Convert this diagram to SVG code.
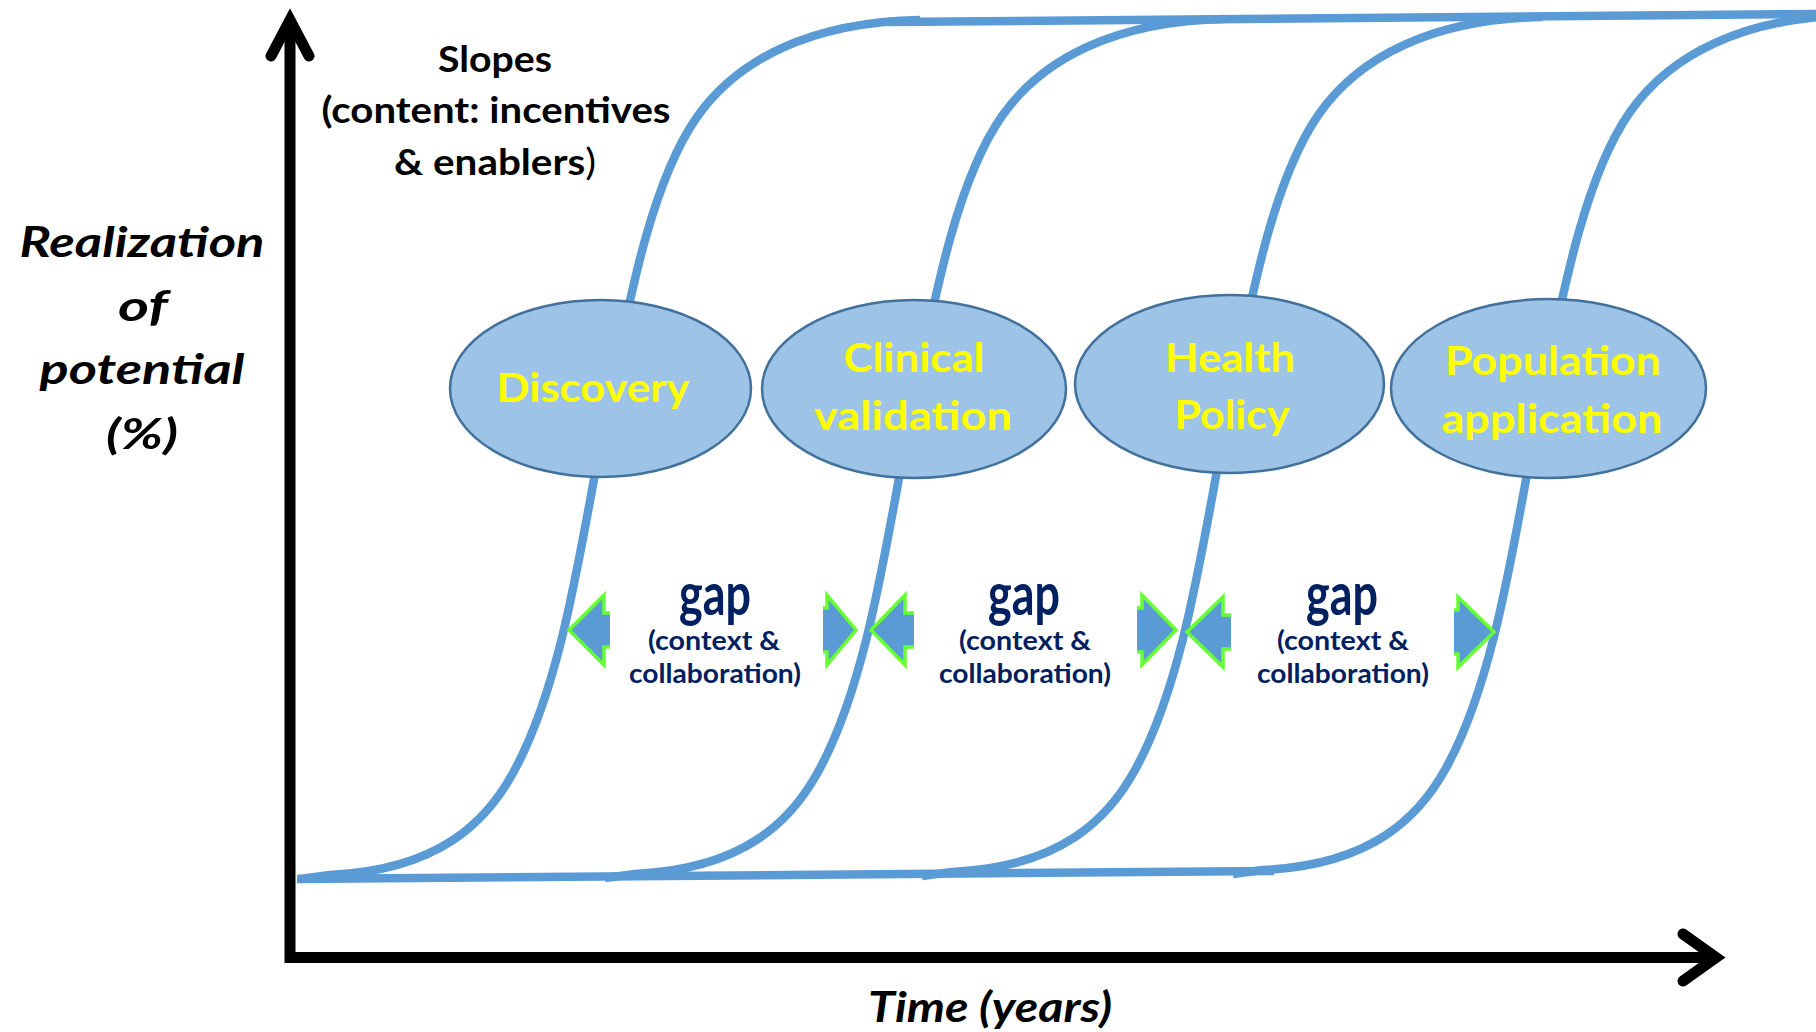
<svg xmlns="http://www.w3.org/2000/svg" width="1816" height="1032" viewBox="0 0 1816 1032">
<defs>
<style>
.curve{fill:none;stroke:#5B9BD5;stroke-width:8.5;stroke-linejoin:round;}
.axis{fill:none;stroke:#000;stroke-width:11;stroke-linejoin:miter;}
.node ellipse{fill:#9DC3E6;stroke:#41719C;stroke-width:2.5;}
.lbl{font-family:Lato,'Open Sans','Liberation Sans',sans-serif;font-weight:bold;font-size:41px;fill:#FFFF00;text-anchor:middle;}
.ttl{font-family:Lato,'Open Sans','Liberation Sans',sans-serif;font-weight:bold;font-size:36px;fill:#000;text-anchor:middle;}
.axt{font-family:Lato,'Open Sans','Liberation Sans',sans-serif;font-weight:bold;font-style:italic;font-size:42px;fill:#000;text-anchor:middle;}
.gapt{font-family:Lato,'Open Sans','Liberation Sans',sans-serif;font-weight:bold;fill:#002060;text-anchor:middle;}
.big{font-size:59px;}
.small{font-size:26px;}
.arrF{fill:#5B9BD5;stroke:none;}
.arrS{fill:none;stroke:#66FF33;stroke-width:3.5;stroke-linejoin:miter;}
</style>
<path id="scurve" d="M 300 879 L 330 875 C 440 870 486.6 821 513 773 C 566 677 583 527 609 400 C 629 302 651 182.5 697 117 C 737 60 810 22 920 20"/>
</defs>
<rect x="0" y="0" width="1816" height="1032" fill="#FFFFFF"/>

<g id="connectors">
  <line class="curve" x1="297" y1="879" x2="1274" y2="871"/>
  <line class="curve" x1="888" y1="22" x2="1816" y2="14"/>
  <use href="#scurve" class="curve"/>
  <use href="#scurve" class="curve" transform="translate(305,-1)"/>
  <use href="#scurve" class="curve" transform="translate(622,-3)"/>
  <use href="#scurve" class="curve" transform="translate(933,-5)"/>
</g>

<g id="axes">
  <polyline class="axis" points="290,20 290,957.5 1716,957.5"/>
  <polyline class="axis" points="271,56 290,20 309,56" stroke-linecap="round"/>
  <polyline class="axis" points="1683,934 1716,957.5 1683,981" stroke-linecap="round"/>
</g>

<g id="slopes-label">
  <text class="ttl" x="495" y="72" textLength="114" lengthAdjust="spacingAndGlyphs">Slopes</text>
  <text class="ttl" x="496" y="123" textLength="349" lengthAdjust="spacingAndGlyphs">(content: incentives</text>
  <text class="ttl" x="495" y="175" textLength="202" lengthAdjust="spacingAndGlyphs">&amp; enablers<tspan font-weight="normal">)</tspan></text>
</g>

<g id="y-axis-title">
  <text class="axt" x="142" y="257" textLength="245" lengthAdjust="spacingAndGlyphs">Realization</text>
  <text class="axt" x="143" y="321" font-size="46" textLength="50" lengthAdjust="spacingAndGlyphs">of</text>
  <text class="axt" x="142" y="384" textLength="205" lengthAdjust="spacingAndGlyphs">potential</text>
  <text class="axt" x="142" y="449" font-size="46" textLength="72" lengthAdjust="spacingAndGlyphs">(%)</text>
</g>

<g id="x-axis-title">
  <text class="axt" x="990" y="1022" textLength="244" lengthAdjust="spacingAndGlyphs">Time (years)</text>
</g>

<g id="node-discovery" class="node">
  <ellipse cx="600.5" cy="388.5" rx="150.5" ry="88.5"/>
  <text class="lbl" x="593" y="402" textLength="193" lengthAdjust="spacingAndGlyphs">Discovery</text>
</g>
<g id="node-clinical-validation" class="node">
  <ellipse cx="914" cy="389" rx="152" ry="89"/>
  <text class="lbl" x="914" y="372" textLength="141" lengthAdjust="spacingAndGlyphs">Clinical</text>
  <text class="lbl" x="913" y="430" textLength="198" lengthAdjust="spacingAndGlyphs">validation</text>
</g>
<g id="node-health-policy" class="node">
  <ellipse cx="1229.5" cy="384" rx="154.5" ry="89"/>
  <text class="lbl" x="1230" y="372" textLength="130" lengthAdjust="spacingAndGlyphs">Health</text>
  <text class="lbl" x="1232" y="429" textLength="115" lengthAdjust="spacingAndGlyphs">Policy</text>
</g>
<g id="node-population-application" class="node">
  <ellipse cx="1548.5" cy="388.5" rx="157.5" ry="89.5"/>
  <text class="lbl" x="1553" y="375" textLength="216" lengthAdjust="spacingAndGlyphs">Population</text>
  <text class="lbl" x="1552" y="433" textLength="221" lengthAdjust="spacingAndGlyphs">application</text>
</g>

<g id="gap-1">
  <polygon class="arrF" points="610,613 604,613 604,595 569,630 604,665 604,647 610,647"/>
  <polyline class="arrS" points="610,613 604,613 604,595 569,630 604,665 604,647 610,647"/>
  <polygon class="arrF" points="823,608 827,608 827,595 856,630 827,665 827,652 823,652"/>
  <polyline class="arrS" points="823,608 827,608 827,595 856,630 827,665 827,652 823,652"/>
  <text class="gapt big" x="715" y="615" textLength="72" lengthAdjust="spacingAndGlyphs">gap</text>
  <text class="gapt small" x="714" y="650" textLength="132" lengthAdjust="spacingAndGlyphs">(context &amp;</text>
  <text class="gapt small" x="715" y="683" textLength="172" lengthAdjust="spacingAndGlyphs">collaboration)</text>
</g>
<g id="gap-2">
  <polygon class="arrF" points="914,613 905,613 905,595 871,630 905,665 905,647 914,647"/>
  <polyline class="arrS" points="914,613 905,613 905,595 871,630 905,665 905,647 914,647"/>
  <polygon class="arrF" points="1137,608 1142,608 1142,595 1176,630 1142,665 1142,652 1137,652"/>
  <polyline class="arrS" points="1137,608 1142,608 1142,595 1176,630 1142,665 1142,652 1137,652"/>
  <text class="gapt big" x="1024" y="615" textLength="72" lengthAdjust="spacingAndGlyphs">gap</text>
  <text class="gapt small" x="1025" y="650" textLength="132" lengthAdjust="spacingAndGlyphs">(context &amp;</text>
  <text class="gapt small" x="1025" y="683" textLength="172" lengthAdjust="spacingAndGlyphs">collaboration)</text>
</g>
<g id="gap-3">
  <polygon class="arrF" points="1231,615 1223,615 1223,597 1187,632 1223,667 1223,649 1231,649"/>
  <polyline class="arrS" points="1231,615 1223,615 1223,597 1187,632 1223,667 1223,649 1231,649"/>
  <polygon class="arrF" points="1454,610 1458,610 1458,597 1494,632 1458,667 1458,654 1454,654"/>
  <polyline class="arrS" points="1454,610 1458,610 1458,597 1494,632 1458,667 1458,654 1454,654"/>
  <text class="gapt big" x="1342" y="615" textLength="72" lengthAdjust="spacingAndGlyphs">gap</text>
  <text class="gapt small" x="1343" y="650" textLength="132" lengthAdjust="spacingAndGlyphs">(context &amp;</text>
  <text class="gapt small" x="1343" y="683" textLength="172" lengthAdjust="spacingAndGlyphs">collaboration)</text>
</g>
</svg>
